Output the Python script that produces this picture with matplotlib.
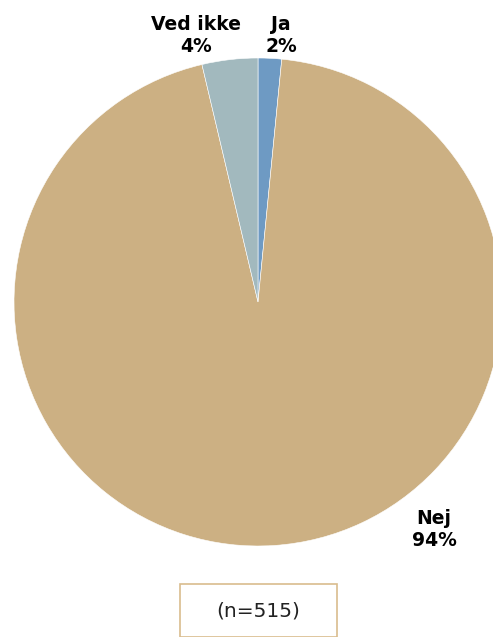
import matplotlib
matplotlib.use("Agg")
from matplotlib import pyplot as plt
from matplotlib.patches import Rectangle

# data (counts of n=515)
categories = ["Ja", "Nej", "Ved ikke"]
counts = [8, 488, 19]
pct_labels = ["2%", "94%", "4%"]
colors = ["#6E9AC3", "#CCB083", "#A2B9BE"]
n_total = 515

W, H = 493, 637
fig = plt.figure(figsize=(W / 100, H / 100), dpi=100)
ax = fig.add_axes([0, 0, 1, 1])

cx, cy, r = 258, H - 302, 244
ax.pie(counts, colors=colors, startangle=90, counterclock=False,
       center=(cx, cy), radius=r, frame=True,
       wedgeprops=dict(edgecolor="white", linewidth=0.4))
ax.set_xlim(0, W)
ax.set_ylim(0, H)
ax.set_aspect("equal")
ax.axis("off")

# label positions in pixel space
label_pos = {"Ja": (281, 35), "Ved ikke": (196, 35), "Nej": (434, 530)}
for cat, pct in zip(categories, pct_labels):
    x, y = label_pos[cat]
    ax.text(x, H - y, f"{cat}\n{pct}", ha="center", va="center",
            fontsize=13.5, fontweight="bold", linespacing=1.2,
            color="black")

# sample size box
ax.add_patch(Rectangle((180, 0), 157, H - 584, fill=False,
                       edgecolor="#D9BC8E", linewidth=1.2, clip_on=False))
ax.text(258.5, H - 611, f"(n={n_total})", ha="center", va="center",
        fontsize=14.5, color="#222222")

fig.savefig("out.png", dpi=100)
